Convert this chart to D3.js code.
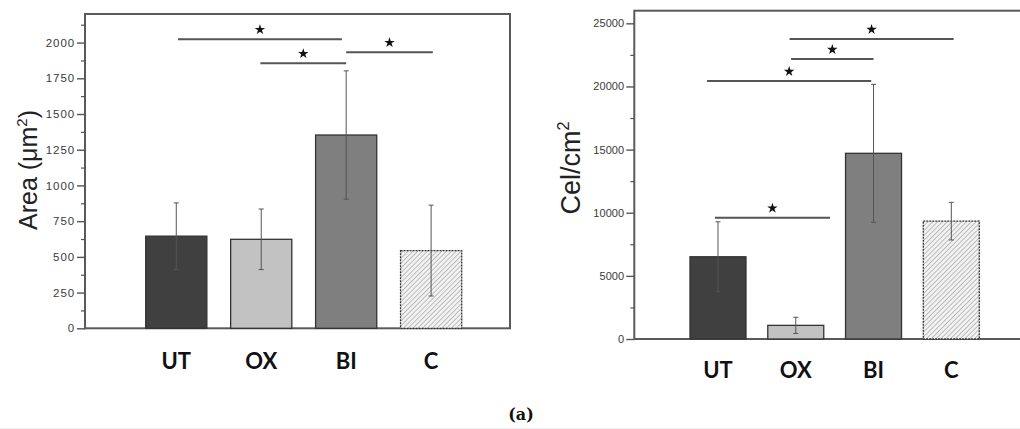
<!DOCTYPE html>
<html>
<head>
<meta charset="utf-8">
<script src="https://cdn.jsdelivr.net/npm/d3@7"></script>
<style>
  body { margin: 0; background: #fff; overflow: hidden; }
  svg { display: block; }
</style>
</head>
<body>
<script>
// values
const categories = ["UT", "OX", "BI", "C"];

const areaMeans  = [645, 623, 1353, 544];
const areaErrors = [233, 212, 449, 318];
const areaTicks  = [0, 250, 500, 750, 1000, 1250, 1500, 1750, 2000];
// significance bars: start / end in category index units, height in data units
const areaSig = [
  { from: 0.02, to: 1.95, value: 2024 },
  { from: 0.99, to: 2.0,  value: 1856 },
  { from: 2.0,  to: 3.02, value: 1933 }
];

const cellMeans  = [6514, 1080, 14705, 9332];
const cellErrors = [2768, 640, 5465, 1490];
const cellTicks  = [0, 5000, 10000, 15000, 20000, 25000];
const cellSig = [
  { from: 0.92,  to: 3.03, value: 23757 },
  { from: 0.94,  to: 2.0,  value: 22173 },
  { from: -0.14, to: 1.97, value: 20431 },
  { from: -0.04, to: 1.44, value: 9606 }
];

const fills = ["#404040", "#c2c2c2", "#7f7f7f", "url(#hatch)"];

const svg = d3.select("body").append("svg")
  .attr("width", 1020)
  .attr("height", 429);

// hatch for the C bar
const pat = svg.append("defs").append("pattern")
  .attr("id", "hatch")
  .attr("patternUnits", "userSpaceOnUse")
  .attr("width", 3.4).attr("height", 3.4)
  .attr("patternTransform", "rotate(45)");
pat.append("rect").attr("width", 3.4).attr("height", 3.4).attr("fill", "#f2f2f2");
pat.append("line").attr("x1", 0).attr("y1", 0).attr("x2", 0).attr("y2", 3.4)
  .attr("stroke", "#9a9a9a").attr("stroke-width", 1.2);

function drawPanel(p) {
  const y = d3.scaleLinear().domain([0, p.max]).range([p.bottom, p.top]);
  const x = d3.scaleBand().domain(categories)
    .range(p.bandRange).paddingInner(0.28).paddingOuter(0);
  const bw = x.bandwidth();
  const cx = d3.scaleLinear().domain([0, 3])
    .range([x(categories[0]) + bw / 2, x(categories[3]) + bw / 2]);

  const g = svg.append("g");

  // frame
  g.append("rect")
    .attr("x", p.left).attr("y", p.top)
    .attr("width", p.right - p.left).attr("height", p.bottom - p.top)
    .attr("fill", "none").attr("stroke", "#5a5a5a").attr("stroke-width", 2);

  // minor ticks
  const minor = [];
  for (let v = p.minorStep; v < p.max; v += p.minorStep) {
    if (!p.ticks.includes(v)) minor.push(v);
  }
  g.append("g")
    .attr("transform", "translate(" + p.left + ",0)")
    .call(d3.axisLeft(y).tickValues(minor).tickSize(4).tickFormat(""))
    .call(a => a.select(".domain").remove())
    .call(a => a.selectAll("line").attr("stroke", "#555").attr("stroke-width", 1.2));

  // major ticks
  g.append("g")
    .attr("transform", "translate(" + p.left + ",0)")
    .call(d3.axisLeft(y).tickValues(p.ticks).tickSize(8).tickPadding(2).tickFormat(d3.format("d")))
    .call(a => a.select(".domain").remove())
    .call(a => a.selectAll("line").attr("stroke", "#555").attr("stroke-width", 1.4))
    .call(a => a.selectAll("text")
      .attr("fill", "#3a3a3a")
      .style("font-family", "'Liberation Sans', Arial, sans-serif")
      .style("font-size", p.tickFont + "px")
      .style("letter-spacing", p.tickSpacing + "px"));

  // bars
  g.selectAll("rect.bar")
    .data(p.means)
    .enter()
    .append("rect")
    .attr("class", "bar")
    .attr("x", (d, i) => x(categories[i]))
    .attr("y", d => y(d))
    .attr("width", bw)
    .attr("height", d => y(0) - y(d))
    .attr("fill", (d, i) => fills[i])
    .attr("stroke", "#333")
    .attr("stroke-width", 1.3)
    .attr("stroke-dasharray", (d, i) => i === 3 ? "2,1" : null);

  // error bars
  const err = g.selectAll("g.err")
    .data(p.means)
    .enter()
    .append("g")
    .attr("class", "err")
    .attr("stroke", "#555")
    .attr("stroke-width", 1);
  err.append("line")
    .attr("x1", (d, i) => cx(i)).attr("x2", (d, i) => cx(i))
    .attr("y1", (d, i) => y(d + p.errors[i]))
    .attr("y2", (d, i) => y(d - p.errors[i]));
  err.append("line")
    .attr("x1", (d, i) => cx(i) - 2.5).attr("x2", (d, i) => cx(i) + 2.5)
    .attr("y1", (d, i) => y(d + p.errors[i])).attr("y2", (d, i) => y(d + p.errors[i]));
  err.append("line")
    .attr("x1", (d, i) => cx(i) - 2.5).attr("x2", (d, i) => cx(i) + 2.5)
    .attr("y1", (d, i) => y(d - p.errors[i])).attr("y2", (d, i) => y(d - p.errors[i]));

  // significance bars + stars
  g.selectAll("line.sig")
    .data(p.sig)
    .enter()
    .append("line")
    .attr("class", "sig")
    .attr("x1", d => cx(d.from)).attr("x2", d => cx(d.to))
    .attr("y1", d => y(d.value)).attr("y2", d => y(d.value))
    .attr("stroke", "#555").attr("stroke-width", 2);
  g.selectAll("path.star")
    .data(p.sig)
    .enter()
    .append("path")
    .attr("class", "star")
    .attr("d", d3.symbol(d3.symbolStar, 34))
    .attr("transform", d => "translate(" + (cx((d.from + d.to) / 2)) + "," + (y(d.value) - 9.5) + ")")
    .attr("fill", "#111");

  // category labels
  g.selectAll("text.cat")
    .data(categories)
    .enter()
    .append("text")
    .attr("class", "cat")
    .attr("x", d => x(d) + bw / 2)
    .attr("y", p.catY)
    .attr("text-anchor", "middle")
    .style("font-family", "Lato, Carlito, sans-serif")
    .style("font-weight", "bold")
    .style("font-size", "22px")
    .attr("fill", "#111")
    .text(d => d);

  // y title
  const t = g.append("text")
    .attr("transform", "translate(" + p.titleX + "," + p.titleY + ") rotate(-90)")
    .attr("text-anchor", "middle")
    .style("font-family", "'Liberation Sans', Arial, sans-serif")
    .style("font-size", p.titleFont + "px")
    .attr("fill", "#222");
  t.append("tspan").text(p.title[0]);
  t.append("tspan").attr("dy", -p.titleFont * 0.4).style("font-size", (p.titleFont * 0.6) + "px").text("2");
  if (p.title[1]) t.append("tspan").attr("dy", p.titleFont * 0.4).text(p.title[1]);
}

drawPanel({
  means: areaMeans, errors: areaErrors, ticks: areaTicks, sig: areaSig,
  max: 2200, minorStep: 125,
  left: 85, right: 510, top: 14, bottom: 328.3,
  bandRange: [145.7, 461.7],
  tickFont: 11.5, tickSpacing: 0.9,
  catY: 369,
  title: ["Area (\u03bcm", ")"], titleFont: 25, titleX: 37, titleY: 170
});

drawPanel({
  means: cellMeans, errors: cellErrors, ticks: cellTicks, sig: cellSig,
  max: 26000, minorStep: 2500,
  left: 634.3, right: 1035, top: 10.7, bottom: 339,
  bandRange: [690, 979.3],
  tickFont: 11, tickSpacing: 0.1,
  catY: 378,
  title: ["Cel/cm"], titleFont: 27, titleX: 580, titleY: 168
});

// panel caption
svg.append("text")
  .attr("x", 521)
  .attr("y", 420)
  .attr("text-anchor", "middle")
  .style("font-family", "'DejaVu Serif', 'Liberation Serif', serif")
  .style("font-weight", "bold")
  .style("font-size", "16px")
  .attr("fill", "#111")
  .text("(a)");

svg.append("line")
  .attr("x1", 0).attr("x2", 1020).attr("y1", 428.5).attr("y2", 428.5)
  .attr("stroke", "#eeeeee");
</script>
</body>
</html>
